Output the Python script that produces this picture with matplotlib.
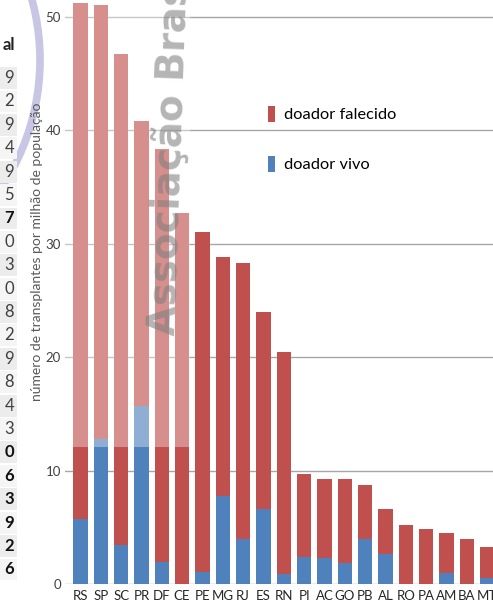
import matplotlib
matplotlib.use("Agg")
import matplotlib.pyplot as plt
from matplotlib.patches import Rectangle, Ellipse, Patch

# ---------------- data ----------------
states = ["RS", "SP", "SC", "PR", "DF", "CE", "PE", "MG", "RJ", "ES", "RN",
          "PI", "AC", "GO", "PB", "AL", "RO", "PA", "AM", "BA", "MT"]
vivo = [5.7, 12.8, 3.4, 15.7, 1.9, 0.0, 1.1, 7.8, 4.0, 6.6, 0.9,
        2.4, 2.3, 1.85, 4.0, 2.65, 0.0, 0.0, 0.95, 0.0, 0.5]
falecido = [45.5, 38.3, 43.3, 25.1, 36.5, 32.7, 29.9, 21.0, 24.3, 17.4, 19.6,
            7.3, 7.0, 7.4, 4.7, 3.95, 5.2, 4.85, 3.55, 4.0, 2.8]
yticks = [0, 10, 20, 30, 40, 50]
legend_labels = ["doador falecido", "doador vivo"]
ylabel = "número de transplantes por milhão de população"
watermark = "Associação Brasileira"
table_header = "al"
table_digits = ["9", "2", "9", "4", "9", "5", "7", "0", "3", "0", "8",
                "2", "9", "8", "4", "3", "0", "6", "3", "9", "2", "6"]
table_bold = [6, 16, 17, 18, 19, 20, 21]

RED = "#c0504d"
BLUE = "#4f81bd"
W, H = 493, 604

fig = plt.figure(figsize=(W / 100, H / 100), dpi=100)
fig.patch.set_facecolor("white")

# axes placement in pixels
ax_left, ax_right, ax_bottom, ax_top = 65, 493, 20, 604
ax = fig.add_axes([ax_left / W, ax_bottom / H, (ax_right - ax_left) / W, (ax_top - ax_bottom) / H])
ax.set_facecolor("none")

x = list(range(len(states)))
ax.bar(x, vivo, width=0.71, color=BLUE, zorder=2)
ax.bar(x, falecido, bottom=vivo, width=0.71, color=RED, zorder=2)

ax.set_xlim(-0.76, 20.29)
ax.set_ylim(0, 51.5)
ax.set_yticks(yticks)
ax.set_xticks(x)
ax.set_xticklabels(states, fontfamily="Lato", fontsize=9.5, color="#262626")
ax.set_yticklabels([str(v) for v in yticks], fontfamily="Lato", fontsize=9.5, color="#404040")
ax.tick_params(axis="both", length=0)
ax.tick_params(axis="x", pad=4)
ax.tick_params(axis="y", pad=3)
ax.yaxis.grid(True, color="#a6a6a6", linewidth=1.0, zorder=1)
ax.set_axisbelow(True)
for s in ax.spines.values():
    s.set_visible(False)

# faded overlay covering upper-left part of the chart
ax.add_patch(Rectangle((-0.76, 12.1), 6.15, 60, facecolor="white", alpha=0.36,
                       edgecolor="none", zorder=3))

# watermark
ax.text(4.1, 21.9, watermark, rotation=88, rotation_mode="anchor",
        ha="left", va="center", fontsize=28, fontweight="bold",
        family="DejaVu Sans", color="#7f7f7f", alpha=0.58, zorder=4)

# legend
handles = [Patch(facecolor=RED), Patch(facecolor=BLUE)]
leg = fig.legend(handles, legend_labels, loc="upper left",
                 bbox_to_anchor=(268 / W, 1 - 106 / H), frameon=False,
                 prop={"family": "Lato", "size": 11.8}, handlelength=0.42,
                 handleheight=1.1, handletextpad=0.55, labelspacing=2.05,
                 borderpad=0, borderaxespad=0)

# y label
fig.text(37 / W, 1 - 252 / H, ylabel, rotation=90, ha="center", va="center",
         fontfamily="Lato", fontsize=10, color="#595959")

# decorative arc at the left (from the slide background)
fig.patches.append(Ellipse((-191 / W, 1 - 60 / H), 462 / W, 462 / H,
                           transform=fig.transFigure, fill=False,
                           edgecolor="#c8c6e4", linewidth=5.5, zorder=0))

# clipped table fragment at the far left
row_h = 23.4
for i, d in enumerate(table_digits):
    yc = 78 + row_h * i
    shade = "#ececec" if i % 2 == 0 else "#f5f5f5"
    fig.patches.append(Rectangle((0, 1 - (yc + row_h / 2 - 0.8) / H), 17 / W,
                                 (row_h - 1.6) / H, transform=fig.transFigure,
                                 facecolor=shade, edgecolor="none", zorder=0))
    bold = i in table_bold
    fig.text(14 / W, 1 - yc / H, d, ha="right", va="center",
             fontfamily="Lato", fontsize=12,
             fontweight="bold" if bold else "normal",
             color="#111111" if bold else "#404040")
fig.text(15 / W, 1 - 45 / H, table_header, ha="right", va="center",
         fontfamily="Lato", fontsize=12, fontweight="bold", color="#222222")

fig.savefig("out.png", dpi=100)
